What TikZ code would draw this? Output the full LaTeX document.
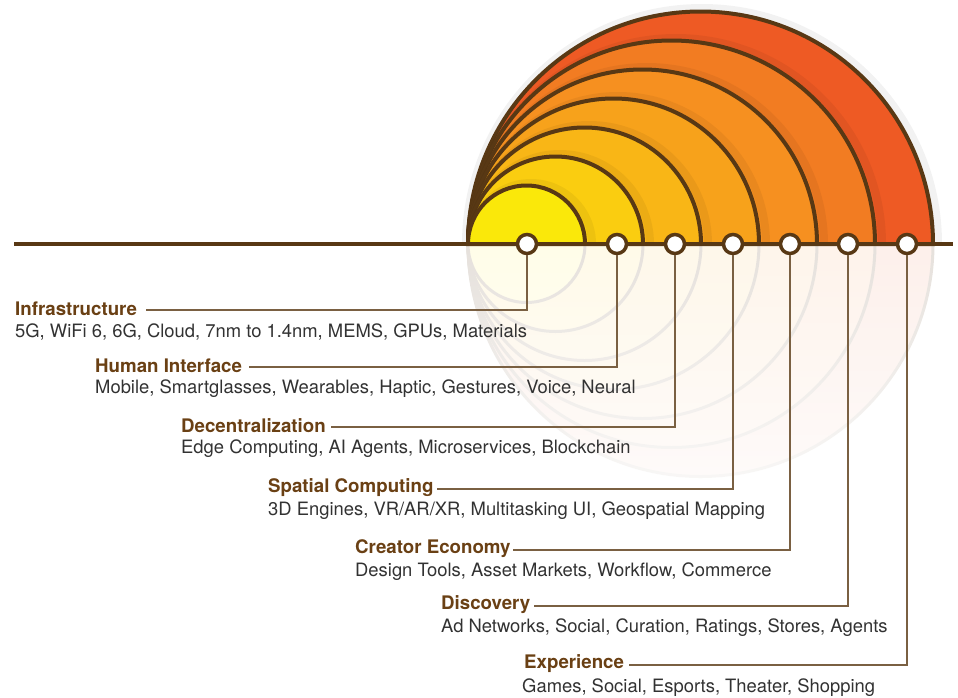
\documentclass[tikz,border=0pt]{standalone}
\usepackage{fontspec}
\setmainfont{TeX Gyre Heros}
\usetikzlibrary{fadings}

\definecolor{rimbrown}{RGB}{88,56,20}
\definecolor{headbrown}{RGB}{106,64,20}
\definecolor{leadbrown}{RGB}{122,96,66}
\definecolor{bodygray}{RGB}{50,50,50}
\definecolor{ringA}{RGB}{250,232,10}
\definecolor{ringB}{RGB}{250,205,16}
\definecolor{ringC}{RGB}{249,182,22}
\definecolor{ringD}{RGB}{247,162,27}
\definecolor{ringE}{RGB}{246,144,32}
\definecolor{ringF}{RGB}{242,124,34}
\definecolor{ringG}{RGB}{238,90,36}

\tikzfading[name=fadedown, top color=transparent!100, bottom color=transparent!25]

\begin{document}
\begin{tikzpicture}
            [x=1pt,y=1pt,
             ring/.style={draw=rimbrown,line width=4pt},
             mirror/.style={draw=rimbrown!15,line width=3pt},
             shade/.style={draw=black,opacity=.05,line width=8pt},
             dot/.style={circle,draw=rimbrown,fill=white,line width=3.5pt,minimum size=19pt,inner sep=0pt},
             head/.style={anchor=west,inner sep=0pt,text=headbrown,font=\fontsize{18.7}{22}\selectfont\bfseries},
             body/.style={anchor=west,inner sep=0pt,text=bodygray,font=\fontsize{18.4}{22}\selectfont},
             leader/.style={draw=leadbrown,line width=1.1pt}]
            \useasboundingbox (0,0) rectangle (958,-697);
            %
            % reflection under the line
            \filldraw[mirror,fill=ringG!9] (468,-244) arc[start angle=180,end angle=360,radius=232.5pt];
            \filldraw[mirror,fill=ringF!9] (468,-244) arc[start angle=180,end angle=360,radius=203.5pt];
            \filldraw[mirror,fill=ringE!9] (468,-244) arc[start angle=180,end angle=360,radius=174.5pt];
            \filldraw[mirror,fill=ringD!9] (468,-244) arc[start angle=180,end angle=360,radius=145.5pt];
            \filldraw[mirror,fill=ringC!9] (468,-244) arc[start angle=180,end angle=360,radius=116.5pt];
            \filldraw[mirror,fill=ringB!9] (468,-244) arc[start angle=180,end angle=360,radius=87.5pt];
            \filldraw[mirror,fill=ringA!9] (468,-244) arc[start angle=180,end angle=360,radius=58.5pt];
            \fill[white,path fading=fadedown] (455,-244) rectangle (945,-482);
            %
            % the rings
            \draw[black,opacity=.05,line width=12pt] (468,-244) arc[start angle=180,end angle=0,radius=234pt];
            \filldraw[ring,fill=ringG] (468,-244) arc[start angle=180,end angle=0,radius=232.5pt] -- cycle;
            \begin{scope}
                \clip (440,-244) rectangle (958,0);
                \draw[shade] (470,-244) arc[start angle=180,end angle=0,radius=206pt];
                \filldraw[ring,fill=ringF] (468,-244) arc[start angle=180,end angle=0,radius=203.5pt] -- cycle;
                \draw[shade] (470,-244) arc[start angle=180,end angle=0,radius=177pt];
                \filldraw[ring,fill=ringE] (468,-244) arc[start angle=180,end angle=0,radius=174.5pt] -- cycle;
                \draw[shade] (470,-244) arc[start angle=180,end angle=0,radius=148pt];
                \filldraw[ring,fill=ringD] (468,-244) arc[start angle=180,end angle=0,radius=145.5pt] -- cycle;
                \draw[shade] (470,-244) arc[start angle=180,end angle=0,radius=119pt];
                \filldraw[ring,fill=ringC] (468,-244) arc[start angle=180,end angle=0,radius=116.5pt] -- cycle;
                \draw[shade] (470,-244) arc[start angle=180,end angle=0,radius=90pt];
                \filldraw[ring,fill=ringB] (468,-244) arc[start angle=180,end angle=0,radius=87.5pt] -- cycle;
                \draw[shade] (470,-244) arc[start angle=180,end angle=0,radius=61pt];
                \filldraw[ring,fill=ringA] (468,-244) arc[start angle=180,end angle=0,radius=58.5pt] -- cycle;
            \end{scope}
            %
            \draw[ring] (14,-244) -- (953,-244);
            %
            \node[dot] (infraDot) at (527,-244) {};
            \node[dot] (humanDot) at (617,-244) {};
            \node[dot] (decentDot) at (675,-244) {};
            \node[dot] (spatialDot) at (733,-244) {};
            \node[dot] (creatorDot) at (790,-244) {};
            \node[dot] (discovDot) at (848,-244) {};
            \node[dot] (experDot) at (907,-244) {};
            %
            \node[head] (infra) at (15,-309) {Infrastructure};
            \node[body] (infraTxt) at (15,-332) {5G, WiFi 6, 6G, Cloud, 7nm to 1.4nm, MEMS, GPUs, Materials};
            \node[head] (human) at (95,-366) {Human Interface};
            \node[body] (humanTxt) at (95,-389) {Mobile, Smartglasses, Wearables, Haptic, Gestures, Voice, Neural};
            \node[head] (decent) at (181,-426) {Decentralization};
            \node[body] (decentTxt) at (181,-449) {Edge Computing, AI Agents, Microservices, Blockchain};
            \node[head] (spatial) at (268,-488) {Spatial Computing};
            \node[body] (spatialTxt) at (268,-511) {3D Engines, VR/AR/XR, Multitasking UI, Geospatial Mapping};
            \node[head] (creator) at (355,-549) {Creator Economy};
            \node[body] (creatorTxt) at (355,-572) {Design Tools, Asset Markets, Workflow, Commerce};
            \node[head] (discov) at (441,-605) {Discovery};
            \node[body] (discovTxt) at (441,-628) {Ad Networks, Social, Curation, Ratings, Stores, Agents};
            \node[head] (exper) at (524,-664) {Experience};
            \node[body] (experTxt) at (522,-688) {Games, Social, Esports, Theater, Shopping};
            %
            \draw[leader] (infraDot.south) |- ([xshift=9pt,yshift=-1pt]infra.east);
            \draw[leader] (humanDot.south) |- ([xshift=7pt,yshift=-1pt]human.east);
            \draw[leader] (decentDot.south) |- ([xshift=5pt,yshift=-1pt]decent.east);
            \draw[leader] (spatialDot.south) |- ([xshift=3pt,yshift=-1pt]spatial.east);
            \draw[leader] (creatorDot.south) |- ([xshift=2pt,yshift=-1pt]creator.east);
            \draw[leader] (discovDot.south) |- ([xshift=3pt,yshift=-1pt]discov.east);
            \draw[leader] (experDot.south) |- ([xshift=5pt,yshift=-1pt]exper.east);
        \end{tikzpicture}
\end{document}
